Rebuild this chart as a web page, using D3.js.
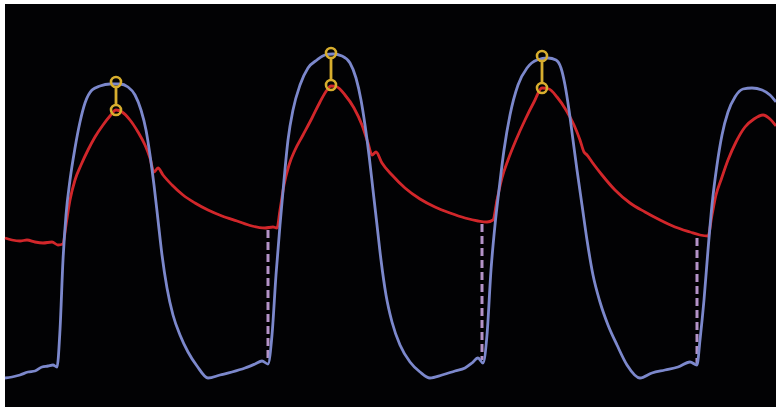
<!DOCTYPE html>
<html>
<head>
<meta charset="utf-8">
<script src="https://d3js.org/d3.v7.min.js"></script>
<style>
  html, body { margin: 0; padding: 0; background: #fff; }
</style>
</head>
<body>
<div id="chart-area"></div>
<script>
  // time in ms, pressure in mmHg
  var lvPressure = [
    [0,11],[28,11.5],[60,12.5],[92,14],[120,14.5],[148,16.5],[172,17],[192,17.5],[208,16.5],
    [220,35],[232,70],[244,92.5],[260,110],[280,126],[300,139],[320,148.5],[348,155],[380,157],
    [420,158],[460,158],[492,156.5],[520,152.5],[544,145],[564,135],[580,122.5],[596,107.5],
    [612,90],[628,72.5],[648,56],[672,42.5],[700,32.5],[732,24],[768,17],[812,11],[860,12.5],
    [908,14],[960,16],[1000,18],[1028,19.5],[1052,18],
    [1068,32.5],[1084,62.5],[1100,87.5],[1116,110],[1132,130],[1152,145],[1180,157.5],[1212,166],
    [1248,170],[1280,172.5],[1312,173],[1348,172],[1380,168.5],[1404,161],[1424,150],[1440,137.5],
    [1456,122.5],[1472,105],[1488,87.5],[1504,70],[1524,52.5],[1548,39],[1580,27.5],[1620,19],
    [1660,14],[1700,11],[1748,12.5],[1800,14.5],[1840,16],[1868,18.5],[1892,21],[1912,18.5],
    [1928,32.5],[1944,65],[1960,87.5],[1976,105],[1996,125],[2020,142.5],[2052,157.5],[2088,166],
    [2128,170],[2172,171],[2204,170],[2224,166],[2240,157.5],[2256,145],[2272,130],[2288,115],
    [2308,97.5],[2328,80],[2352,62.5],[2380,49],[2412,37.5],[2448,27.5],[2488,17.5],[2540,11],
    [2588,13.5],[2640,15],[2692,16.5],[2740,19],[2768,17.5],
    [2780,30],[2796,50],[2812,75],[2828,97.5],[2848,117.5],[2868,132.5],[2892,144],[2920,151.5],
    [2952,155.5],[2988,156],[3028,155],[3060,152.5],[3084,149]
  ];

  var aoPressure = [
    [0,81],[28,80],[60,79.5],[88,80],[120,79],[152,78.5],[188,79],[212,77.5],[232,78],
    [244,87.5],[260,100],[280,110],[304,117.5],[332,125],[360,131.5],[392,137.5],[420,142],
    [444,145],[468,144],[500,140],[532,134],[560,127.5],[580,121],[596,114],[612,116],[632,112.5],
    [668,107.5],[712,102.5],[760,98.5],[812,95],[868,92],[928,89.5],[988,87],[1040,86],[1072,86.5],
    [1088,86],[1100,95],[1116,107.5],[1136,117.5],[1160,125],[1192,132.5],[1228,141],[1260,149],
    [1288,155],[1304,157],[1328,156.5],[1360,152.5],[1396,146],[1428,137.5],[1452,128.5],
    [1468,122.5],[1484,124],[1508,118.5],[1548,112.5],[1600,106],[1660,100.5],[1720,96.5],
    [1780,93.5],[1840,91],[1892,89.5],[1928,89],[1952,90],[1968,100],[1988,111],[2012,120],
    [2044,130],[2080,140],[2116,149],[2148,156],[2176,155.5],[2208,151.5],[2244,145],[2276,137.5],
    [2300,130],[2316,124],[2328,122.5],[2348,119],[2388,112.5],[2440,105],[2500,98.5],[2560,94],
    [2620,90],[2680,86.5],[2740,84],[2780,82.5],[2812,82],[2828,92.5],[2844,102.5],[2864,110],
    [2892,120],[2924,129],[2960,136.5],[2996,140.5],[3032,142.5],[3060,140.5],[3084,137]
  ];

  // peak-to-peak gradient: time, LV peak, Ao peak
  var peakTimes = [444, 1304, 2148];
  var peakLV = [159, 173.5, 172];
  var peakAo = [145, 157.5, 156];

  // end-diastolic gradient: time, Ao value, LV value
  var edTimes = [1052, 1908, 2768];
  var edAo = [86, 89, 82];
  var edLV = [18, 19, 17.5];

  function create_chart() {
    var W = 776, H = 407;
    var plot = {left: 5, top: 4, right: 776, bottom: 407};

    var svg = d3.select('#chart-area')
      .append('svg')
      .attr('width', W)
      .attr('height', H)
      .style('display', 'block');

    svg.append('rect')
      .attr('x', plot.left)
      .attr('y', plot.top)
      .attr('width', plot.right - plot.left)
      .attr('height', plot.bottom - plot.top)
      .attr('fill', '#020204');

    var defs = svg.append('defs');
    defs.append('filter').attr('id', 'soft')
      .append('feGaussianBlur').attr('stdDeviation', 0.4);

    var x = d3.scaleLinear().domain([0, 3084]).range([5, 776]);
    var y = d3.scaleLinear().domain([0, 200]).range([400, 0]);

    var line = d3.line()
      .x(function(d) { return x(d[0]); })
      .y(function(d) { return y(d[1]); })
      .curve(d3.curveMonotoneX);

    var g = svg.append('g').attr('filter', 'url(#soft)');

    // dashed end-diastolic lines
    edTimes.forEach(function(t, i) {
      g.append('line')
        .attr('x1', x(t)).attr('x2', x(t))
        .attr('y1', y(edAo[i]) + 2).attr('y2', y(edLV[i]) - 2)
        .attr('stroke', '#b493c8')
        .attr('stroke-width', 3)
        .attr('stroke-dasharray', '8,4');
    });

    g.append('path')
      .attr('d', line(aoPressure))
      .attr('fill', 'none')
      .attr('stroke', '#d2282c')
      .attr('stroke-width', 2.8)
      .attr('stroke-linejoin', 'round');

    g.append('path')
      .attr('d', line(lvPressure))
      .attr('fill', 'none')
      .attr('stroke', '#7c88cc')
      .attr('stroke-width', 2.8)
      .attr('stroke-linejoin', 'round');

    // peak markers
    var r = 5;
    peakTimes.forEach(function(t, i) {
      var cx = x(t);
      g.append('line')
        .attr('x1', cx).attr('x2', cx)
        .attr('y1', y(peakLV[i]) + r).attr('y2', y(peakAo[i]) - r)
        .attr('stroke', '#d8ae2e')
        .attr('stroke-width', 2.8);
      [peakLV[i], peakAo[i]].forEach(function(v) {
        g.append('circle')
          .attr('cx', cx).attr('cy', y(v)).attr('r', r)
          .attr('fill', 'none')
          .attr('stroke', '#d8ae2e')
          .attr('stroke-width', 2.6);
      });
    });
  }

  create_chart();
</script>
</body>
</html>
